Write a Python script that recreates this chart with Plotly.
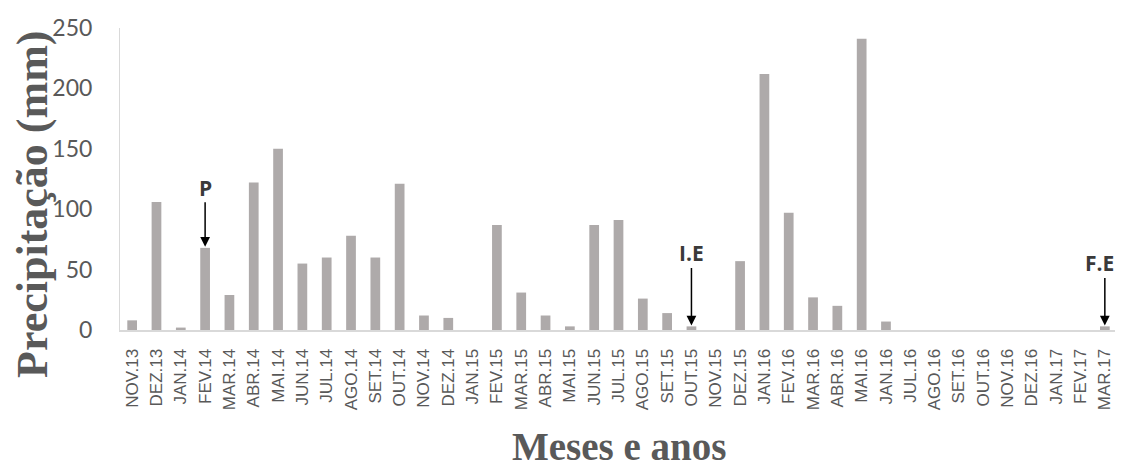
import plotly.graph_objects as go

months = ["NOV.13", "DEZ.13", "JAN.14", "FEV.14", "MAR.14", "ABR.14", "MAI.14", "JUN.14",
          "JUL.14", "AGO.14", "SET.14", "OUT.14", "NOV.14", "DEZ.14", "JAN.15", "FEV.15",
          "MAR.15", "ABR.15", "MAI.15", "JUN.15", "JUL.15", "AGO.15", "SET.15", "OUT.15",
          "NOV.15", "DEZ.15", "JAN.16", "FEV.16", "MAR.16", "ABR.16", "MAI.16", "JAN.16",
          "JUL.16", "AGO.16", "SET.16", "OUT.16", "NOV.16", "DEZ.16", "JAN.17", "FEV.17",
          "MAR.17"]
precip = [8, 106, 2, 68, 29, 122, 150, 55, 60, 78, 60, 121, 12, 10, 0, 87,
          31, 12, 3, 87, 91, 26, 14, 3, 0, 57, 212, 97, 27, 20, 241, 7,
          0, 0, 0, 0, 0, 0, 0, 0, 3]
y_ticks = [0, 50, 100, 150, 200, 250]
marks = [("P", 3, -60, 0), ("I.E", 23, -73, 0), ("F.E", 40, -63, -5)]

idx = list(range(len(months)))

fig = go.Figure()
fig.add_trace(go.Bar(x=idx, y=precip, width=0.4,
                     marker=dict(color="#AEAAAA", line=dict(width=0))))

annotations = []
for label, i, off, dx in marks:
    annotations.append(dict(x=i, y=precip[i], xref="x", yref="y", text="",
                            showarrow=True, ax=0, ay=off + 13, arrowhead=2, arrowsize=1.3,
                            arrowwidth=1.5, arrowcolor="black", standoff=1))
    annotations.append(dict(x=i, y=precip[i], xref="x", yref="y", text="<b>" + label + "</b>",
                            showarrow=False, yshift=-off, xshift=dx,
                            xanchor="center", yanchor="middle",
                            font=dict(family="Open Sans", size=21, color="#3A3A3A")))
annotations.append(dict(text="<b>Precipitação (mm)</b>", xref="paper", yref="paper",
                        x=-0.088, y=0.415, textangle=-90, showarrow=False,
                        xanchor="center", yanchor="middle",
                        font=dict(family="Liberation Serif", size=44, color="#595959")))
annotations.append(dict(text="<b>Meses e anos</b>", xref="paper", yref="paper",
                        x=0.5, y=-0.385, showarrow=False,
                        xanchor="center", yanchor="middle",
                        font=dict(family="Liberation Serif", size=39, color="#595959")))

fig.update_layout(
    width=1115, height=460,
    margin=dict(l=112, r=6, t=20, b=138),
    paper_bgcolor="white", plot_bgcolor="white",
    showlegend=False,
    annotations=annotations,
    xaxis=dict(range=[-0.5, len(months) - 0.5], tickmode="array", tickvals=idx,
               ticktext=months, tickangle=-90, showgrid=False, zeroline=False,
               showline=True, linecolor="#D9D9D9", linewidth=2, ticks="",
               ticklabelstandoff=10,
               tickfont=dict(family="Liberation Sans", size=17, color="#595959")),
    yaxis=dict(range=[0, 250], tickmode="array", tickvals=y_ticks, showgrid=False,
               zeroline=False, showline=True, linecolor="#D9D9D9", linewidth=1,
               ticks="", ticklen=0, ticklabelstandoff=22,
               tickfont=dict(family="Lato", size=23, color="#595959")),
)

fig.write_html("out.html")
